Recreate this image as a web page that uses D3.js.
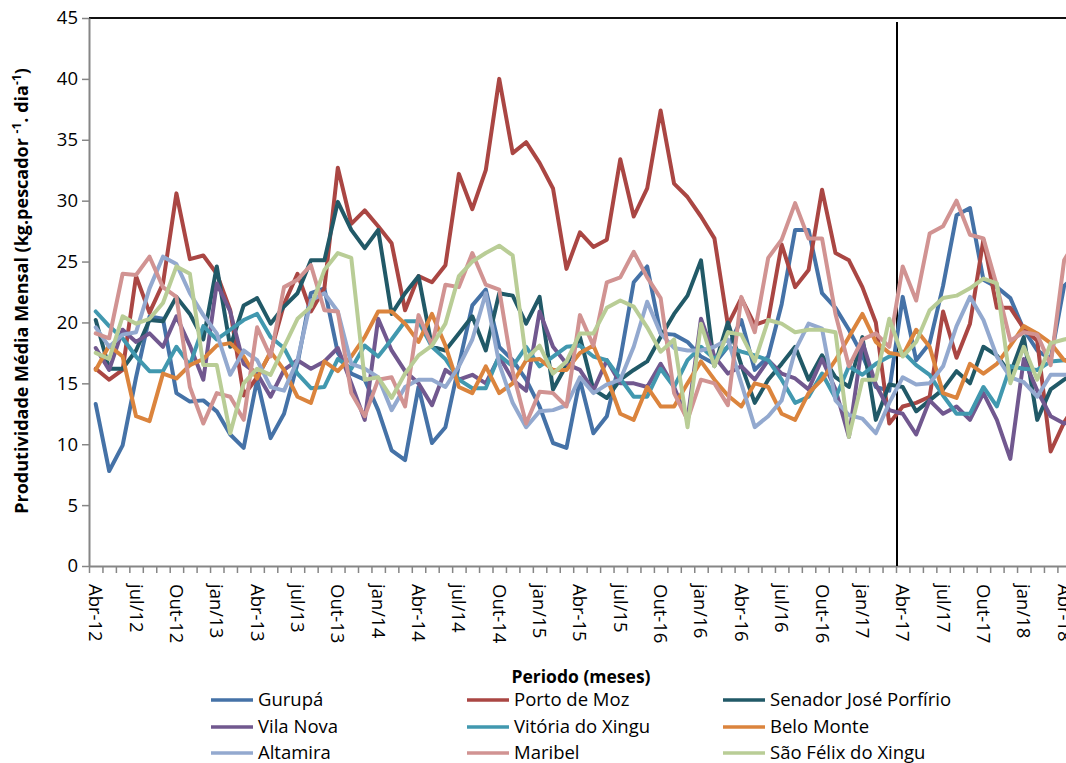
<!DOCTYPE html>
<html><head><meta charset="utf-8">
<script src="https://cdn.jsdelivr.net/npm/d3@7"></script>
<style>
html,body{margin:0;padding:0;background:#fff;overflow:hidden}
text{font-family:"Open Sans",sans-serif}
</style></head>
<body><svg id="c" width="1066" height="763"></svg>
<script>
const categories = ["Abr-12","Mai-12","Jun-12","Jul-12","Ago-12","Set-12","Out-12","Nov-12","Dez-12","Jan-13","Fev-13","Mar-13",
"Abr-13","Mai-13","Jun-13","Jul-13","Ago-13","Set-13","Out-13","Nov-13","Dez-13","Jan-14","Fev-14","Mar-14",
"Abr-14","Mai-14","Jun-14","Jul-14","Ago-14","Set-14","Out-14","Nov-14","Dez-14","Jan-15","Fev-15","Mar-15",
"Abr-15","Mai-15","Jun-15","Jul-15","Ago-15","Set-15","Out-15","Nov-15","Dez-15","Jan-16","Fev-16","Mar-16",
"Abr-16","Mai-16","Jun-16","Jul-16","Ago-16","Set-16","Out-16","Nov-16","Dez-16","Jan-17","Fev-17","Mar-17",
"Abr-17","Mai-17","Jun-17","Jul-17","Ago-17","Set-17","Out-17","Nov-17","Dez-17","Jan-18","Fev-18","Mar-18",
"Abr-18","Mai-18"];
const tickLabels = ["Abr-12","jul/12","Out-12","jan/13","Abr-13","jul/13","Out-13","jan/14","Abr-14","jul/14","Out-14","jan/15",
"Abr-15","jul/15","Out-16","jan/16","Abr-16","jul/16","Out-16","jan/17","Abr-17","jul/17","Out-17","jan/18","Abr-18"];
const yTicks = [0,5,10,15,20,25,30,35,40,45];

const seriesNames = ["Gurupá","Porto de Moz","Senador José Porfírio","Vila Nova","Vitória do Xingu","Belo Monte","Altamira","Maribel","São Félix do Xingu"];
const seriesColors = ["#4572A7","#AA4643","#215967","#71588F","#4198AF","#DB843D","#93A9CF","#D19392","#B9CD96"];

const gurupa = [13.3,7.8,9.9,15.5,20.5,20.3,14.2,13.5,13.6,12.7,10.8,9.7,15.3,10.5,12.5,16.6,22.4,22.8,17.5,15.8,15.3,12.8,9.5,8.7,14.7,10.1,11.4,16.5,21.4,22.7,18.0,16.9,15.3,13.1,10.1,9.7,15.3,10.9,12.3,17.0,23.3,24.6,19.1,19.0,18.4,17.2,16.6,18.0,20.2,16.1,17.2,21.5,27.6,27.6,22.4,21.2,19.4,17.3,14.7,14.4,22.1,16.9,18.3,23.0,28.8,29.4,23.5,22.9,22.0,19.4,17.7,17.0,23.0,24.0];
const portoDeMoz = [16.2,15.3,16.1,23.8,20.8,23.2,30.6,25.2,25.5,24.0,21.0,14.0,15.5,17.5,21.5,24.0,20.9,22.8,32.7,28.1,29.2,27.9,26.5,21.0,23.8,23.3,24.7,32.2,29.3,32.5,40.0,33.9,34.8,33.1,31.0,24.4,27.4,26.2,26.8,33.4,28.7,31.0,37.4,31.4,30.3,28.7,26.9,19.8,22.0,19.8,20.2,26.4,22.9,24.3,30.9,25.7,25.1,22.9,20.0,11.7,13.1,13.4,13.9,20.9,17.1,19.9,26.8,21.2,21.2,19.5,18.5,9.4,11.8,13.5];
const senador = [20.2,16.2,16.2,17.7,20.2,20.1,22.1,20.7,18.6,24.6,18.0,21.4,22.0,19.9,21.3,22.4,25.1,25.1,29.9,27.6,26.1,27.6,20.7,22.4,23.8,18.0,17.7,19.1,20.5,17.7,22.4,22.2,19.9,22.1,14.5,16.5,18.8,14.5,13.8,15.3,16.1,16.8,18.8,20.7,22.2,25.1,16.4,20.0,16.5,13.4,15.3,16.6,18.0,15.3,17.3,15.5,14.7,18.8,12.0,14.9,14.7,12.7,13.6,14.5,16.0,15.0,18.0,17.3,15.8,18.8,12.0,14.5,15.3,16.0];
const vilaNova = [17.9,16.1,19.4,18.4,19.1,18.0,20.5,18.1,15.3,23.2,20.9,16.6,15.8,13.9,16.1,16.9,16.2,16.8,17.9,15.0,12.0,20.3,17.7,16.0,15.0,13.2,16.1,15.3,15.7,15.0,17.2,15.3,14.4,20.9,18.0,16.6,16.1,14.4,16.9,15.0,15.0,14.7,16.6,14.7,12.0,20.3,17.2,15.8,16.4,15.3,16.9,15.8,15.4,14.5,17.0,14.5,10.6,18.4,14.9,12.8,12.5,10.8,13.6,12.5,13.1,12.0,14.2,12.0,8.8,17.0,14.4,12.3,11.7,12.0];
const vitoria = [20.9,19.7,18.7,17.2,16.0,16.0,18.0,16.5,19.7,18.6,19.4,20.2,20.7,18.8,17.9,15.8,14.6,14.7,17.0,16.2,18.1,17.2,18.6,20.1,20.1,18.0,17.0,15.3,14.6,14.6,17.3,16.4,18.0,16.4,17.2,18.0,18.1,17.2,16.9,15.4,13.9,13.9,16.2,14.7,16.9,18.0,17.0,18.0,17.6,17.3,16.9,15.3,13.4,13.9,15.8,13.8,16.4,15.7,16.6,17.2,17.6,16.5,15.7,14.0,12.5,12.5,14.7,13.1,16.4,16.2,16.1,16.8,16.9,17.0];
const beloMonte = [16.1,18.1,17.2,12.3,11.9,15.8,15.4,16.5,17.0,18.1,18.3,17.2,15.4,17.6,16.1,13.9,13.4,16.8,16.0,17.2,18.8,20.9,20.9,19.9,18.4,20.7,18.1,14.7,14.2,16.4,14.2,15.0,16.9,17.0,16.1,16.1,17.5,18.1,15.5,12.5,12.0,14.7,13.1,13.1,15.0,16.8,15.3,14.0,13.1,15.0,14.7,12.5,12.0,14.2,15.3,16.9,18.8,20.7,18.4,17.5,17.3,19.4,18.0,14.2,13.8,16.6,15.8,16.6,18.1,19.7,19.1,18.3,16.9,16.5];
const altamira = [19.6,18.0,19.0,19.2,22.8,25.4,24.8,22.4,20.6,19.1,15.7,17.7,16.9,14.7,14.4,16.9,21.8,22.4,20.9,16.6,16.2,15.5,12.8,14.7,15.3,15.3,14.7,16.4,18.6,22.4,16.6,13.4,11.4,12.7,12.8,13.2,15.5,14.2,14.9,15.3,18.0,21.7,19.1,17.9,17.7,17.7,18.0,18.6,15.0,11.4,12.3,13.6,17.7,19.9,19.5,13.6,12.4,12.1,10.9,13.4,15.5,14.9,15.0,16.4,19.7,22.1,20.2,17.2,15.5,15.1,13.9,15.7,15.7,15.7];
const maribel = [19.1,18.7,24.0,23.9,25.4,22.9,22.1,14.7,11.7,14.2,13.9,12.0,19.6,17.2,22.9,23.5,24.7,21.0,20.9,14.2,12.3,15.3,15.5,13.1,20.6,18.1,23.1,22.9,25.7,23.1,22.7,16.0,11.7,14.3,14.2,13.1,20.6,18.1,23.3,23.7,25.8,23.7,22.0,14.2,12.0,15.3,15.0,13.2,22.1,19.2,25.3,26.8,29.8,26.9,26.9,20.7,16.4,18.6,19.1,18.0,24.6,21.8,27.3,27.9,30.0,27.2,26.9,23.0,18.5,19.2,19.0,16.5,25.1,27.0];
const saoFelix = [17.5,17.0,20.5,19.9,20.3,21.6,24.6,24.0,16.5,16.5,10.9,15.0,16.2,15.7,18.0,20.3,21.3,24.3,25.7,25.3,15.3,15.5,13.8,15.8,17.3,18.1,19.9,23.8,25.0,25.7,26.3,25.5,17.0,18.1,15.8,16.8,19.1,19.1,21.2,21.8,21.3,19.6,17.6,18.6,11.4,19.9,16.4,19.2,19.0,16.8,20.2,19.9,19.2,19.4,19.4,19.2,10.6,15.3,15.3,20.3,17.2,18.4,21.0,22.0,22.2,22.8,23.6,23.2,15.0,18.0,15.3,18.3,18.6,18.8];

const seriesValues = [gurupa, portoDeMoz, senador, vilaNova, vitoria, beloMonte, altamira, maribel, saoFelix];
const markerCategory = "Abr-17";

const svg = d3.select("#c");
const plotLeft = 89, plotTop = 18, plotBottom = 566, step = 13.45;
const x = d3.scaleBand().domain(categories).range([plotLeft, plotLeft + categories.length * step]).paddingInner(0).paddingOuter(0);
const xIdx = d3.scaleLinear().domain([0, categories.length]).range([plotLeft, plotLeft + categories.length * step]);
const y = d3.scaleLinear().domain([0, 45]).range([plotBottom, plotTop]);
const cx = c => x(c) + x.bandwidth() / 2;

// top border
svg.append("line").attr("x1", plotLeft).attr("x2", 1066).attr("y1", plotTop).attr("y2", plotTop)
  .attr("stroke", "#111").attr("stroke-width", 2);

// y axis
const ya = svg.append("g").attr("transform", `translate(${plotLeft},0)`)
  .call(d3.axisLeft(y).tickValues(yTicks).tickSize(7).tickSizeOuter(0).tickPadding(4));
ya.select(".domain").attr("stroke", "#868686").attr("stroke-width", 2);
ya.selectAll(".tick line").attr("stroke", "#868686").attr("stroke-width", 1.5);
ya.selectAll(".tick text").attr("font-size", 18.5).attr("fill", "#000").attr("font-family", "Open Sans");

// x axis ticks
const xa = svg.append("g").attr("transform", `translate(0,${plotBottom})`)
  .call(d3.axisBottom(xIdx).tickValues(d3.range(0, categories.length + 1)).tickSize(7).tickSizeOuter(0).tickFormat(""));
xa.select(".domain").attr("stroke", "#868686").attr("stroke-width", 2);
xa.selectAll(".tick line").attr("stroke", "#868686").attr("stroke-width", 1.5);

// x tick labels
const labelCats = tickLabels.map((t, i) => ({t, c: categories[i * 3]}));
svg.append("g").selectAll("text").data(labelCats).join("text")
  .attr("transform", d => `translate(${cx(d.c)},${plotBottom + 18}) rotate(90)`)
  .attr("dy", "0.35em").attr("text-anchor", "start")
  .attr("font-size", 18.5).attr("fill", "#000").text(d => d.t);

// vertical marker line
svg.append("line").attr("x1", x(markerCategory) + 1).attr("x2", x(markerCategory) + 1)
  .attr("y1", plotTop + 4).attr("y2", plotBottom).attr("stroke", "#000").attr("stroke-width", 2);

// series lines
const line = d3.line().x((d, i) => cx(categories[i])).y(d => y(d)).curve(d3.curveLinear);
svg.append("g").selectAll("path").data(seriesValues).join("path")
  .attr("d", d => line(d)).attr("fill", "none")
  .attr("stroke", (d, i) => seriesColors[i]).attr("stroke-width", 4)
  .attr("stroke-linejoin", "round").attr("stroke-linecap", "round");

// y title
const yt = svg.append("text").attr("transform", "translate(28,291) rotate(-90)")
  .attr("text-anchor", "middle").attr("font-size", 18).attr("font-weight", "bold").attr("fill", "#000");
yt.append("tspan").text("Produtividade Média Mensal (kg.pescador ");
yt.append("tspan").attr("font-size", 12).attr("dy", -7).text("-1");
yt.append("tspan").attr("dy", 7).text(". dia");
yt.append("tspan").attr("font-size", 12).attr("dy", -7).text("-1");
yt.append("tspan").attr("dy", 7).text(")");

// x title
svg.append("text").attr("x", 581).attr("y", 683).attr("text-anchor", "middle")
  .attr("font-size", 17.5).attr("font-weight", "bold").attr("fill", "#000").text("Periodo (meses)");

// legend
const colX = [211, 467, 723], rowY = [700, 727, 753];
const lg = svg.append("g").selectAll("g").data(seriesNames).join("g")
  .attr("transform", (d, i) => `translate(${colX[i % 3]},${rowY[Math.floor(i / 3)]})`);
lg.append("line").attr("x1", 0).attr("x2", 42).attr("y1", 0).attr("y2", 0)
  .attr("stroke", (d, i) => seriesColors[i]).attr("stroke-width", 3.5);
lg.append("text").attr("x", 47).attr("dy", "0.35em").attr("font-size", 18.5).attr("fill", "#000").text(d => d);
</script></body></html>
